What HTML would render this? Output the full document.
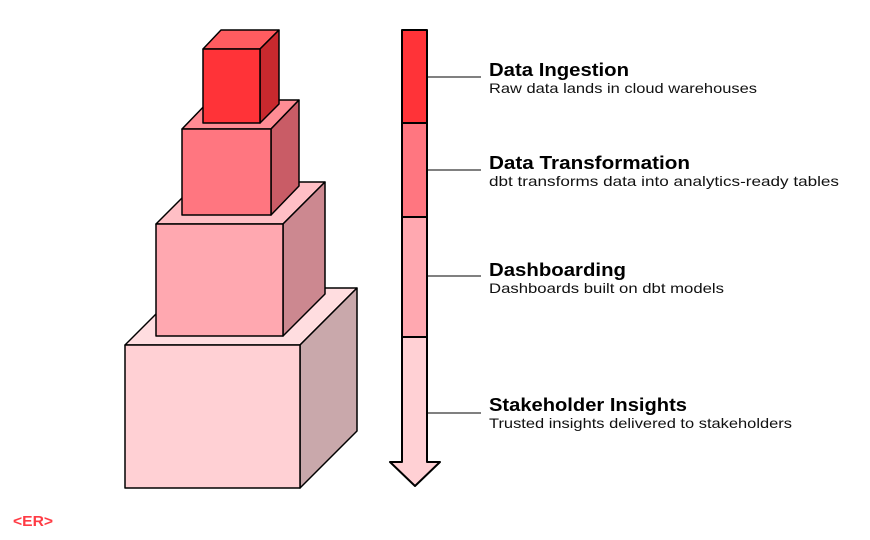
<!DOCTYPE html>
<html><head><meta charset="utf-8"><style>
html,body{margin:0;padding:0;background:#fff;width:870px;height:540px;overflow:hidden}
svg{display:block}
.h{font-family:"Liberation Sans",sans-serif;font-weight:bold;font-size:18px;fill:#000}
.s{font-family:"Liberation Sans",sans-serif;font-size:14px;fill:#111}
</style></head><body>
<svg width="870" height="540" viewBox="0 0 870 540" stroke="#000" stroke-width="1.5" stroke-linejoin="round">
<!-- cube 4 -->
<polygon points="125,345 182,288 357,288 300,345" fill="#ffdde0"/>
<polygon points="300,345 357,288 357,431 300,488" fill="#c9a8ab"/>
<rect x="125" y="345" width="175" height="143" fill="#ffd0d4"/>
<!-- cube 3 -->
<polygon points="156,224 198,182 325,182 283,224" fill="#ffbfc5"/>
<polygon points="283,224 325,182 325,294 283,336" fill="#cc8890"/>
<rect x="156" y="224" width="127" height="112" fill="#ffa8b0"/>
<!-- cube 2 -->
<polygon points="182,129 210,100 299,100 271,129" fill="#ff8c94"/>
<polygon points="271,129 299,100 299,186 271,215" fill="#c95c66"/>
<rect x="182" y="129" width="89" height="86" fill="#ff7680"/>
<!-- cube 1 -->
<polygon points="203,49 221,30 279,30 260,49" fill="#ff5c60"/>
<polygon points="260,49 279,30 279,104 260,123" fill="#c9292e"/>
<rect x="203" y="49" width="57" height="74" fill="#ff3338"/>
<!-- bar -->
<polygon points="402,337 427,337 427,462 440,462 415,486 390,462 402,462" fill="#ffd0d4" stroke-width="2"/>
<rect x="402" y="217" width="25" height="120" fill="#ffa8b0" stroke-width="2"/>
<rect x="402" y="123" width="25" height="94" fill="#ff7680" stroke-width="2"/>
<rect x="402" y="30" width="25" height="93" fill="#ff3338" stroke-width="2"/>
<!-- leaders -->
<g stroke-width="1">
<line x1="428" y1="77" x2="481" y2="77"/>
<line x1="428" y1="170" x2="481" y2="170"/>
<line x1="428" y1="276" x2="481" y2="276"/>
<line x1="428" y1="413" x2="481" y2="413"/>
</g>
<g stroke="none">
<text class="h" x="489" y="76" textLength="140" lengthAdjust="spacingAndGlyphs">Data Ingestion</text>
<text class="s" x="489" y="93" textLength="268" lengthAdjust="spacingAndGlyphs">Raw data lands in cloud warehouses</text>
<text class="h" x="489" y="169" textLength="201" lengthAdjust="spacingAndGlyphs">Data Transformation</text>
<text class="s" x="489" y="186" textLength="350" lengthAdjust="spacingAndGlyphs">dbt transforms data into analytics-ready tables</text>
<text class="h" x="489" y="276" textLength="137" lengthAdjust="spacingAndGlyphs">Dashboarding</text>
<text class="s" x="489" y="293" textLength="235" lengthAdjust="spacingAndGlyphs">Dashboards built on dbt models</text>
<text class="h" x="489" y="411" textLength="198" lengthAdjust="spacingAndGlyphs">Stakeholder Insights</text>
<text class="s" x="489" y="428" textLength="303" lengthAdjust="spacingAndGlyphs">Trusted insights delivered to stakeholders</text>
<text x="13" y="526" font-family="Liberation Sans,sans-serif" font-weight="bold" font-size="15" fill="#ff3b44" textLength="40" lengthAdjust="spacingAndGlyphs">&lt;ER&gt;</text>
</g>
</svg>
</body></html>
